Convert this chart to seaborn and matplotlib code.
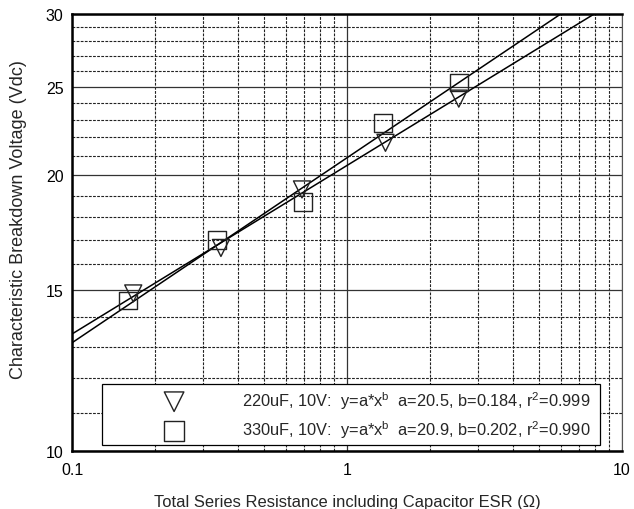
import numpy as np
import pandas as pd
import matplotlib
matplotlib.use("Agg")
import matplotlib.pyplot as plt
import seaborn as sns
from matplotlib.ticker import FixedLocator, NullFormatter, FixedFormatter

# ---- data ----
esr_220 = [0.167, 0.348, 0.686, 1.38, 2.55]
volt_220 = [14.86, 16.66, 19.3, 21.7, 24.25]
esr_330 = [0.160, 0.337, 0.690, 1.35, 2.55]
volt_330 = [14.6, 17.0, 18.7, 22.8, 25.25]
series_names = ["220uF, 10V", "330uF, 10V"]
fit_a = [20.5, 20.9]
fit_b = [0.184, 0.202]
fit_r2 = [0.999, 0.990]
x_ticks = [0.1, 1, 10]
x_tick_labels = ["0.1", "1", "10"]
y_ticks = [10, 15, 20, 25, 30]
y_tick_labels = ["10", "15", "20", "25", "30"]

sns.set_theme(style="white")
plt.rcParams["font.family"] = ["Liberation Sans", "DejaVu Sans"]
plt.rcParams["mathtext.fontset"] = "custom"
plt.rcParams["mathtext.rm"] = "Liberation Sans"
plt.rcParams["mathtext.it"] = "Liberation Sans"

fig = plt.figure(figsize=(6.34, 5.10), dpi=100)
ax = fig.add_axes([72/634, 58/510, 550/634, 437/510])

ax.set_xscale("log")
ax.set_yscale("log")
ax.set_xlim(0.1, 10)
ax.set_ylim(10, 30)

# grid
ax.xaxis.set_major_locator(FixedLocator(x_ticks))
ax.xaxis.set_major_formatter(FixedFormatter(x_tick_labels))
xminor = [m * d for d in (0.1, 1) for m in range(2, 10)]
ax.xaxis.set_minor_locator(FixedLocator(xminor))
ax.xaxis.set_minor_formatter(NullFormatter())
ax.yaxis.set_major_locator(FixedLocator(y_ticks))
ax.yaxis.set_major_formatter(FixedFormatter(y_tick_labels))
yminor = [v for v in range(11, 30) if v not in y_ticks]
ax.yaxis.set_minor_locator(FixedLocator(yminor))
ax.yaxis.set_minor_formatter(NullFormatter())

ax.grid(True, which="major", axis="both", color="#333333", lw=0.9, ls="-", zorder=0)
ax.grid(True, which="minor", axis="both", color="#222222", lw=0.8, ls=(0, (2.5, 1.2)), zorder=0)
ax.set_axisbelow(True)

# fit lines
xs = np.logspace(-1, 1, 200)
for a, b in zip(fit_a, fit_b):
    line_df = pd.DataFrame({"x": xs, "y": a * xs ** b})
    sns.lineplot(data=line_df, x="x", y="y", ax=ax, color="black", lw=1.1, zorder=3, legend=False)

labels = [f"{n}:  y=a*x$^{{b}}$  a={a}, b={b}, r$^{{2}}$={r:.3f}"
          for n, a, b, r in zip(series_names, fit_a, fit_b, fit_r2)]

df220 = pd.DataFrame({"x": esr_220, "y": volt_220})
df330 = pd.DataFrame({"x": esr_330, "y": volt_330})
sns.scatterplot(data=df220, x="x", y="y", ax=ax, marker="v", s=150,
                facecolor="none", edgecolor="#222222", linewidth=1.0, zorder=4, label=labels[0])
sns.scatterplot(data=df330, x="x", y="y", ax=ax, marker="s", s=165,
                facecolor="none", edgecolor="#222222", linewidth=1.0, zorder=4, label=labels[1])

leg = ax.legend(loc="lower left", bbox_to_anchor=(0.0545, 0.0137, 0.905, 0.147),
                mode="expand", borderaxespad=0, fontsize=11.8, frameon=True,
                fancybox=False, edgecolor="black", framealpha=1, handlelength=8.2,
                handletextpad=0.05, borderpad=0.3, labelspacing=0.45, markerscale=1.15)
leg.get_frame().set_linewidth(0.9)

ax.set_xlabel("Total Series Resistance including Capacitor ESR (Ω)", fontsize=11.9)
ax.xaxis.label.set_verticalalignment("baseline")
ax.xaxis.set_label_coords(0.5, -0.125)
ax.set_ylabel("Characteristic Breakdown Voltage (Vdc)", fontsize=13)
ax.yaxis.label.set_verticalalignment("center")
ax.yaxis.set_label_coords(-0.097, 0.531)
ax.tick_params(axis="both", which="major", labelsize=11.5, length=0, colors="black")
ax.tick_params(axis="x", which="major", pad=8)
ax.tick_params(axis="y", which="major", pad=6)
ax.tick_params(axis="both", which="minor", length=0)

for s in ["top", "left", "bottom"]:
    ax.spines[s].set_color("black")
    ax.spines[s].set_linewidth(1.8)
ax.spines["right"].set_color("#555555")
ax.spines["right"].set_linewidth(0.8)

fig.savefig("out.png", dpi=100)
